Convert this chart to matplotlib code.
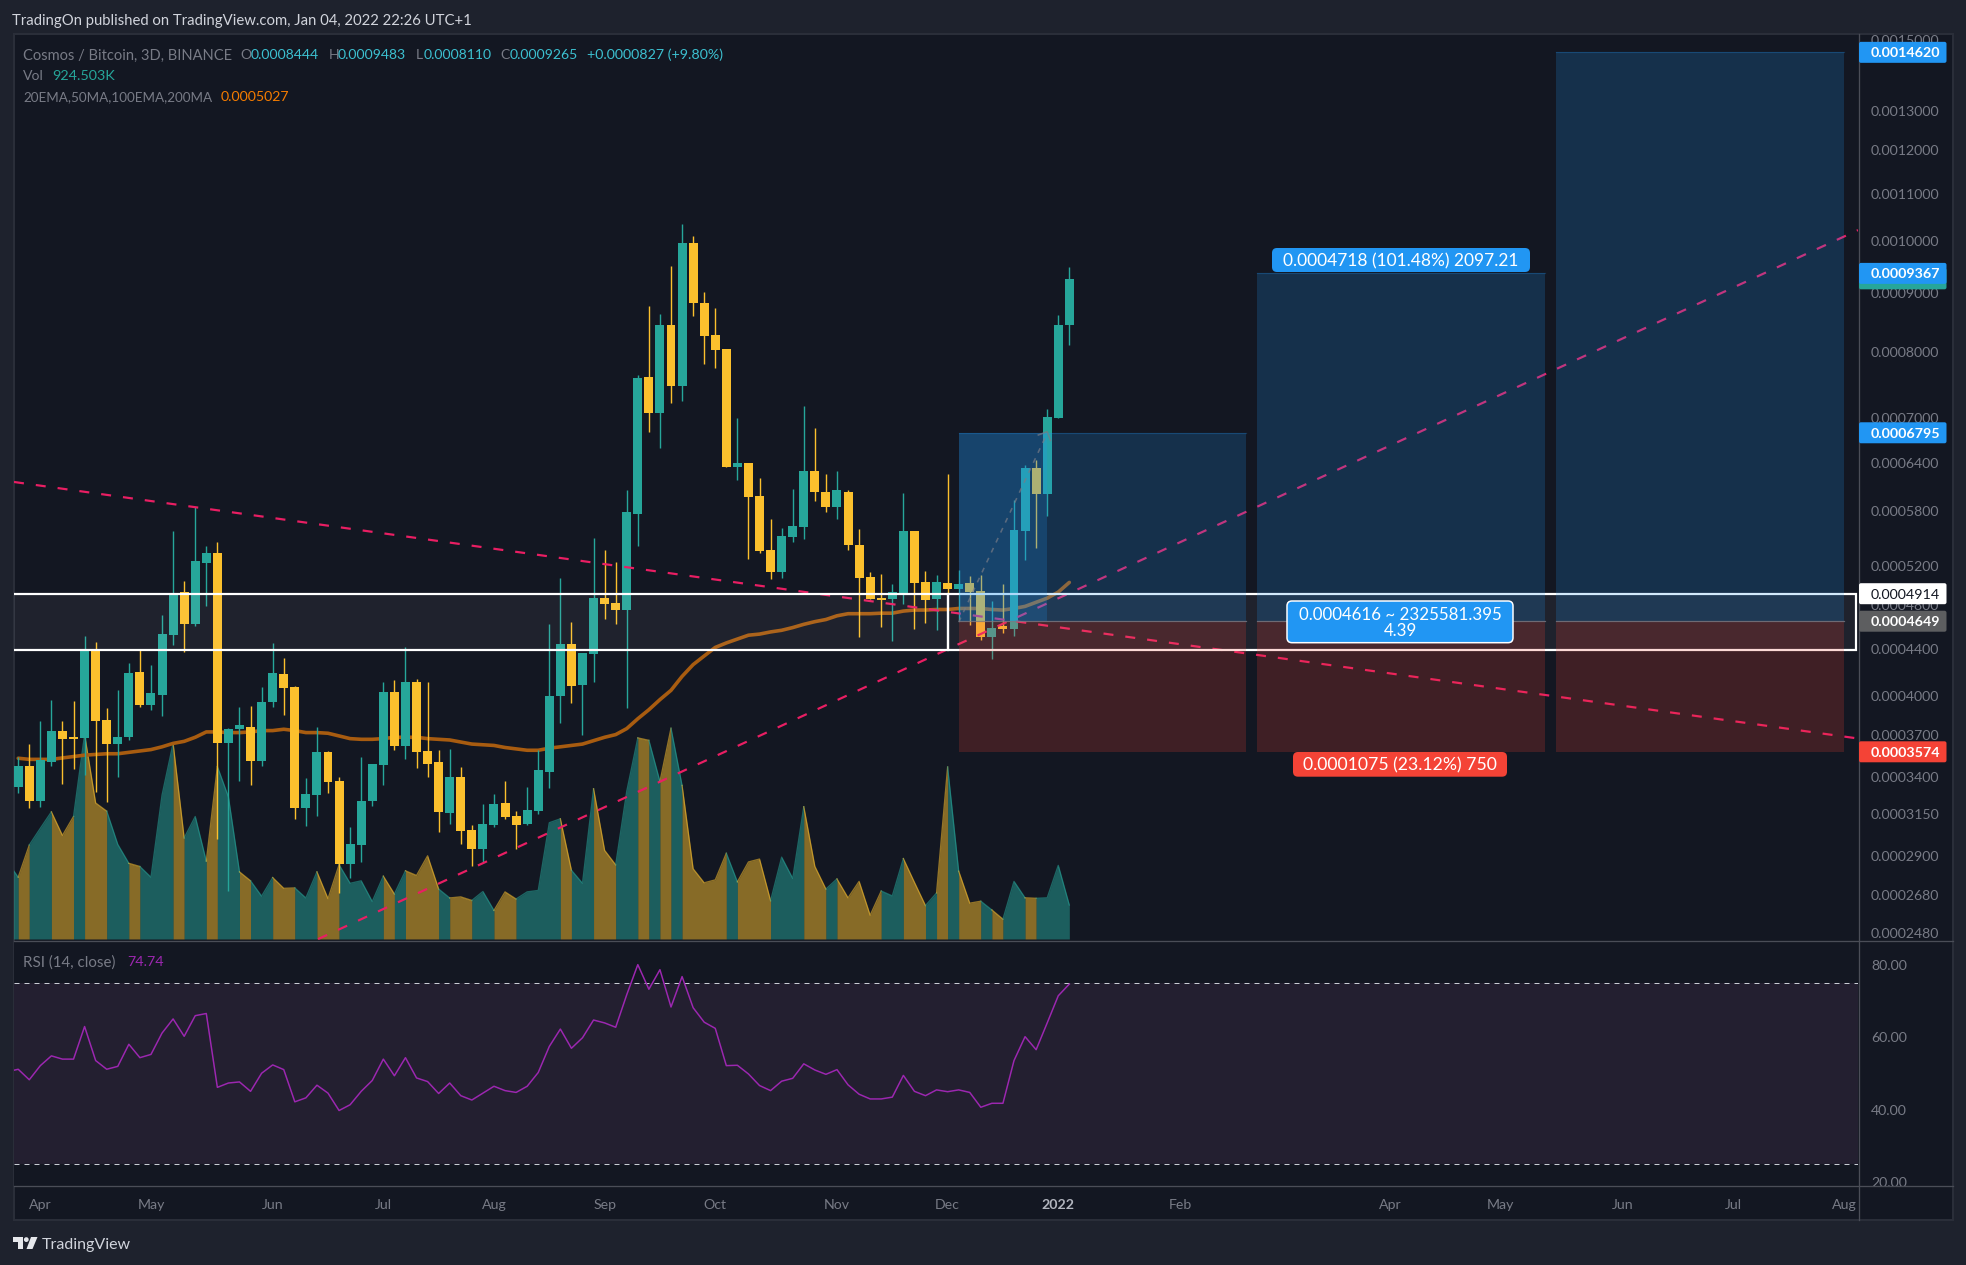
import matplotlib
matplotlib.use("Agg")
import matplotlib.pyplot as plt
from matplotlib.patches import Rectangle, FancyBboxPatch, Circle
from matplotlib.ticker import NullLocator

plt.rcParams['font.family'] = ['Lato', 'DejaVu Sans']
plt.rcParams['lines.scale_dashes'] = False

# ---- data (prices are in units of 1e-4 BTC, volume in thousands) ----
PRICE_UNIT = 1e-4
opens = [3.33,3.47,3.24,3.50,3.73,3.68,3.675,4.39,3.81,3.63,3.68,4.20,3.93,4.01,4.52,4.93,4.62,5.23,5.33,3.64,
         3.74,3.76,3.51,3.95,4.18,4.07,3.19,3.275,3.57,3.37,2.85,2.96,3.235,3.48,4.03,3.615,4.115,3.58,3.50,3.16,
         3.40,3.053,2.94,3.085,3.225,3.14,3.09,3.17,3.43,4.00,4.44,4.09,4.35,4.87,4.82,4.755,5.77,7.60,7.07,8.44,
         7.47,9.96,8.82,8.28,8.05,6.34,6.40,5.98,5.37,5.13,5.51,5.62,6.29,6.03,5.85,6.03,5.42,5.08,4.87,4.86,
         4.92,5.57,5.03,4.86,5.02,4.96,5.02,4.94,4.50,4.60,4.58,5.58,6.33,6.01,7.00,8.444]
highs = [3.54,3.63,3.80,3.97,3.80,3.96,4.51,4.46,3.905,4.05,4.27,4.39,4.26,4.71,5.57,5.04,5.85,5.41,5.45,3.75,
         3.91,3.92,4.07,4.45,4.32,4.08,3.39,3.755,3.58,3.395,3.07,3.54,3.49,4.115,4.13,4.41,4.14,4.11,3.59,3.595,
         3.466,3.085,3.215,3.285,3.37,3.17,3.33,3.59,4.62,5.07,4.64,4.365,5.50,5.37,5.24,6.06,7.64,8.78,8.63,9.50,
         10.34,10.09,9.02,8.73,8.05,7.00,6.40,6.20,5.71,5.61,6.07,7.17,6.86,6.25,6.29,6.05,5.60,5.13,5.11,5.01,
         6.02,5.58,5.14,5.10,6.25,5.15,5.09,5.10,4.84,5.01,5.93,6.37,6.43,7.13,8.61,9.483]
lows = [3.29,3.19,3.20,3.47,3.35,3.45,3.41,3.295,3.23,3.40,3.66,3.91,3.89,3.84,4.43,4.37,4.60,4.79,3.00,2.70,
        3.37,3.34,3.47,3.91,3.85,3.12,3.08,3.14,3.29,2.69,2.77,2.86,3.205,3.34,3.59,3.52,3.46,3.395,3.04,3.09,
        2.97,2.84,2.86,3.07,3.12,2.94,3.085,3.155,3.32,3.79,3.94,3.70,4.115,4.67,4.62,3.905,5.41,6.81,6.59,7.21,
        7.24,8.60,7.81,7.74,6.34,6.18,5.27,5.33,5.06,5.07,5.45,5.49,5.92,5.79,5.71,5.37,4.50,4.86,4.595,4.47,
        4.81,4.58,4.63,4.57,4.92,4.66,4.61,4.48,4.31,4.54,4.51,5.26,5.39,5.75,7.00,8.11]
closes = [3.47,3.24,3.515,3.73,3.67,3.67,4.40,3.80,3.63,3.68,4.19,3.93,4.02,4.53,4.91,4.62,5.25,5.33,3.64,3.74,
          3.77,3.51,3.95,4.19,4.06,3.19,3.28,3.57,3.36,2.85,2.97,3.24,3.49,4.03,3.615,4.11,3.57,3.49,3.165,3.40,
          3.05,2.94,3.09,3.22,3.135,3.085,3.18,3.445,4.00,4.44,4.08,4.36,4.87,4.81,4.755,5.79,7.59,7.07,8.44,7.47,
          9.96,8.82,8.26,8.03,6.34,6.40,5.97,5.36,5.13,5.52,5.63,6.29,6.03,5.85,6.05,5.42,5.07,4.86,4.85,4.93,
          5.57,5.02,4.85,5.03,4.96,5.01,4.93,4.50,4.585,4.58,5.59,6.33,6.01,7.01,8.44,9.265]
volume_before_first = 2108
volumes = [1681,2555,3011,3458,2817,3332,5566,3701,3478,2574,2059,1972,1681,3915,5323,2749,3332,2118,4692,3866,
           1826,1583,1166,1671,1379,1389,1117,1826,1098,2021,1515,1583,1020,1710,1224,1855,1729,2263,1360,1117,
           1146,1049,1292,777,1282,1088,1282,1321,3163,3269,1872,1516,4086,2412,2017,4020,5470,5404,4284,5733,
           4178,1911,1529,1608,2333,1555,2096,2175,1041,2227,1648,3598,1977,1358,1634,1120,1568,646,1305,1173,
           2188,1542,909,1252,4679,1845,975,1028,791,540,1568,1120,1107,1120,2003,924.5]
ma_line = [3.528,3.52,3.52,3.52,3.53,3.54,3.55,3.555,3.56,3.56,3.57,3.58,3.59,3.61,3.635,3.65,3.68,3.72,3.72,3.715,
           3.715,3.72,3.73,3.73,3.74,3.73,3.715,3.715,3.71,3.69,3.67,3.665,3.665,3.67,3.68,3.68,3.68,3.67,3.665,3.66,
           3.645,3.63,3.625,3.62,3.605,3.595,3.585,3.585,3.60,3.61,3.62,3.63,3.655,3.68,3.70,3.745,3.82,3.89,3.97,4.045,
           4.16,4.26,4.335,4.41,4.45,4.485,4.52,4.53,4.55,4.565,4.59,4.62,4.645,4.665,4.70,4.72,4.72,4.72,4.725,4.725,
           4.745,4.755,4.755,4.76,4.76,4.77,4.77,4.77,4.76,4.755,4.77,4.79,4.83,4.87,4.93,5.027]
rsi_before_first = 50.5
rsi_values = [51.2,48.3,52.2,54.9,54.0,54.0,63.0,53.6,51.2,52.0,58.1,54.4,55.3,61.2,65.1,60.3,66.0,66.6,46.2,47.4,
              47.7,45.1,50.1,52.4,51.1,42.2,43.3,46.8,44.6,39.8,41.4,45.1,48.1,54.0,49.4,54.4,48.8,47.8,44.5,47.4,
              43.9,42.7,44.6,46.5,45.3,44.8,46.5,50.3,57.5,62.3,57.0,59.9,64.8,64.0,62.8,71.8,80.1,73.3,78.7,68.4,
              76.8,68.2,64.2,62.5,52.2,52.3,49.9,46.7,45.3,47.9,48.7,52.7,51.0,49.8,51.1,46.9,44.3,43.0,43.0,43.5,
              49.5,45.1,43.9,45.5,45.0,45.5,44.8,40.7,41.8,41.8,53.6,60.2,56.6,64.0,71.5,74.74]

month_ticks = [2,12,23,33,43,53,63,74,84,94,105,124,134,145,155,165]
month_labels = ['Apr','May','Jun','Jul','Aug','Sep','Oct','Nov','Dec','2022','Feb','Apr','May','Jun','Jul','Aug']
price_ticks = [15,13,12,11,10,9,8,7,6.4,5.8,5.2,4.8,4.4,4.0,3.7,3.4,3.15,2.9,2.68,2.48]
rsi_ticks = [80,60,40,20]

falling_x, falling_y = [-0.38,166.28], [6.154,3.671]
rising_x, rising_y = [27.1,166.28], [2.451,10.22]
zone_low, zone_high = 4.39, 4.914
zone_split, zone_end = 84, 166.1
entry, stop = 4.649, 3.574
targets = [6.795, 9.367, 14.62]
position_x = [(85,111),(112,138),(139,165)]
overlap_end = 93
path_x, path_y = [85,93], [4.64,6.79]
head_x, head_y = [92.2,93,93.3], [6.765,6.81,6.69]

# ---- colours ----
BG, PANE, BORDER, SEP = '#1e222d', '#131722', '#2a2e39', '#4a4d57'
TEAL, YELLOW = '#26a69a', '#fbc02d'
BLUE, RED = '#2196f3', '#f44336'
PINK = '#e91e63'
GREY = '#787b86'
CYAN = '#3cc0d0'

W, H = 1966, 1265
fig = plt.figure(figsize=(W/100, H/100), dpi=100, facecolor=BG)
PX = 0.72   # points per pixel

def rect(x0, y0, x1, y1):
    return [x0/W, 1-y1/H, (x1-x0)/W, (y1-y0)/H]

fig.add_artist(Rectangle((14/W, 1-1220/H), (1953-14)/W, (1220-34)/H, transform=fig.transFigure,
                         fc=PANE, ec=BORDER, lw=2*PX, zorder=-5))

# volume pane underneath the price pane
ax_v = fig.add_axes(rect(14,34,1858,940.5), zorder=1, facecolor=PANE)
ax = fig.add_axes(rect(14,34,1858,940.5), zorder=2, facecolor='none')
ax_r = fig.add_axes(rect(14,941,1858,1186), zorder=2, facecolor=PANE)
ov = fig.add_axes([0,0,1,1], zorder=10, facecolor='none')

xlim = (-0.38, 166.28)
n = len(closes)
idx = list(range(n))
colors = [TEAL if c >= o else YELLOW for o, c in zip(opens, closes)]

# volume mountain: runs of candles with one colour form one polygon
all_vol = [volume_before_first] + volumes
all_x = [-1] + idx
start = 0
for k in range(1, len(all_x)+1):
    if k == len(all_x) or (k > 1 and colors[all_x[k]] != colors[all_x[k-1]]):
        c = colors[all_x[k-1]]
        ax_v.fill_between(all_x[start:k], 0, all_vol[start:k], color=c, alpha=0.5, lw=0)
        ax_v.plot(all_x[start:k], all_vol[start:k], color=c, alpha=0.55, lw=1.3*PX)
        start = k-1
ax_v.set_xlim(*xlim); ax_v.set_ylim(-41, 24616); ax_v.axis('off')
ax_v.patch.set_visible(True)

# candles
ax.set_yscale('log')
ax.set_xlim(*xlim); ax.set_ylim(2.444, 15.17)
ax.plot(idx, ma_line, color='#a85c10', lw=3.6*PX, zorder=1.5, solid_capstyle='round')
ax.vlines(idx, lows, highs, colors=colors, lw=1.4*PX, zorder=2)
tops = [max(o, c) for o, c in zip(opens, closes)]
bots = [min(o, c) for o, c in zip(opens, closes)]
ax.bar(idx, [t-b for t, b in zip(tops, bots)], bottom=bots, width=0.81, color=colors, lw=0, zorder=3)

# trend lines
dash = (0, (10*PX, 12*PX))
ax.plot(falling_x, falling_y, color=PINK, lw=2.2*PX, ls=dash, zorder=5)
ax.plot(rising_x, rising_y, color=PINK, lw=2.2*PX, ls=dash, zorder=5)

# support/resistance zone
for x0, x1 in [(-5, zone_split), (zone_split, zone_end)]:
    ax.add_patch(Rectangle((x0, zone_low), x1-x0, zone_high-zone_low, fc=(1,1,1,0.05), ec='white',
                           lw=2.2*PX, zorder=6))

# long-position tools
for (x0, x1), target in zip(position_x, targets):
    ax.add_patch(Rectangle((x0, entry), x1-x0, target-entry, fc=BLUE, alpha=0.2, lw=0, zorder=7))
    ax.add_patch(Rectangle((x0, stop), x1-x0, entry-stop, fc=RED, alpha=0.2, lw=0, zorder=7))
    ax.plot([x0, x1], [entry, entry], color=GREY, lw=1.2*PX, alpha=0.8, zorder=7.5)
    ax.plot([x0, x1], [target, target], color=BLUE, lw=1.2*PX, alpha=0.25, zorder=7.5)
ax.add_patch(Rectangle((position_x[0][0], entry), overlap_end-position_x[0][0], targets[0]-entry,
                       fc=BLUE, alpha=0.2, lw=0, zorder=7))
ax.plot(path_x, path_y, color=GREY, lw=1.6*PX, alpha=0.7, ls=(0,(5*PX,6*PX)), zorder=8)
ax.plot(head_x, head_y, color=GREY, lw=1.6*PX, alpha=0.7, zorder=8)

# axes dressing
ax.yaxis.tick_right()
ax.set_yticks(price_ticks)
ax.set_yticklabels([f'{p*PRICE_UNIT:.7f}' for p in price_ticks])
ax.yaxis.set_minor_locator(NullLocator())
ax.tick_params(axis='y', which='both', length=0, pad=13*PX, labelsize=10.2, labelcolor=GREY)
ax.set_xticks([])
for s in ax.spines.values():
    s.set_visible(False)

# RSI
ax_r.set_xlim(*xlim); ax_r.set_ylim(18.95, 86.63)
ax_r.axhspan(25, 75, color='#b367ae', alpha=0.1, lw=0)
for lvl in (75, 25):
    ax_r.axhline(lvl, color='#c8ccd4', lw=1*PX, ls=(0,(5*PX,5*PX)))
ax_r.plot([-1] + idx, [rsi_before_first] + rsi_values, color='#9c27b0', lw=1.5*PX)
ax_r.yaxis.tick_right()
ax_r.set_yticks(rsi_ticks)
ax_r.set_yticklabels([f'{v:.2f}' for v in rsi_ticks])
ax_r.tick_params(axis='y', length=0, pad=13*PX, labelsize=10.2, labelcolor=GREY)
ax_r.set_xticks(month_ticks)
ax_r.set_xticklabels(month_labels)
ax_r.tick_params(axis='x', length=0, pad=13*PX, labelsize=10.2, labelcolor=GREY)
for t, lab in zip(ax_r.get_xticklabels(), month_labels):
    if lab == '2022':
        t.set_fontweight('bold'); t.set_color('#b2b5be')
for s in ax_r.spines.values():
    s.set_visible(False)

# ---- overlay in pixel coordinates: chrome, tags and texts ----
ov.set_xlim(0, W); ov.set_ylim(H, 0); ov.axis('off')

def price_y(price):
    return H - ax.transData.transform((0, price))[1]

ov.add_patch(Rectangle((0,0), W, 33, fc=BG, lw=0, zorder=1))
ov.add_patch(Rectangle((1859,1187), 93, 32, fc=PANE, lw=0, zorder=1))
ov.plot([14,1953], [33.5,33.5], color=BORDER, lw=2*PX, zorder=2)
ov.plot([14,1953], [940.5,940.5], color=SEP, lw=1.3*PX, zorder=2)
ov.plot([14,1953], [1186,1186], color=SEP, lw=1.3*PX, zorder=2)
ov.plot([1858.5,1858.5], [34,1220], color=SEP, lw=1.3*PX, zorder=2)

def tag(price, label, fc, tc='white', weight='normal'):
    y = price_y(price)
    ov.add_patch(FancyBboxPatch((1859, y-10.5), 87.5, 21, boxstyle='round,pad=0,rounding_size=2',
                                fc=fc, lw=0, zorder=3))
    ov.text(1870.5, y, label, color=tc, fontsize=10.3, va='center_baseline', ha='left', zorder=4, fontweight=weight)

tag(9.265, '', TEAL)
tag(targets[2], f'{targets[2]*PRICE_UNIT:.7f}', BLUE, weight='bold')
tag(targets[1], f'{targets[1]*PRICE_UNIT:.7f}', BLUE, weight='bold')
tag(targets[0], f'{targets[0]*PRICE_UNIT:.7f}', BLUE, weight='bold')
tag(zone_high, f'{zone_high*PRICE_UNIT:.7f}', 'white', '#131722')
tag(entry, f'{entry*PRICE_UNIT:.7f}', '#5d5e60', 'white', 'bold')
tag(stop, f'{stop*PRICE_UNIT:.7f}', RED, weight='bold')

def pill(x0, y0, x1, y1, fc, ec='none', lw=0):
    ov.add_patch(FancyBboxPatch((x0, y0), x1-x0, y1-y0, boxstyle='round,pad=0,rounding_size=5',
                                fc=fc, ec=ec, lw=lw, zorder=3))

pill(1272, 248, 1530, 272, BLUE)
ov.text(1401, 260, '0.0004718 (101.48%) 2097.21', color='white', fontsize=12.5, ha='center', va='center_baseline', zorder=4)
pill(1287, 601, 1513, 642.7, BLUE, 'white', 1.5*PX)
ov.text(1400, 613, '0.0004616 ~ 2325581.395', color='white', fontsize=12.2, ha='center', va='center_baseline', zorder=4)
ov.text(1400, 629, '4.39', color='white', fontsize=12.2, ha='center', va='center_baseline', zorder=4)
pill(1293, 752, 1507, 776.7, RED)
ov.text(1400, 764, '0.0001075 (23.12%) 750', color='white', fontsize=12.7, ha='center', va='center_baseline', zorder=4)

def txt(x, y, s, c=GREY, **kw):
    ov.text(x, y, s, color=c, fontsize=kw.pop('fontsize', 10.1), va='center_baseline', ha='left', zorder=4, **kw)

txt(12.5, 20, 'TradingOn published on TradingView.com, Jan 04, 2022 22:26 UTC+1', '#d1d4dc', fontsize=10.7)
txt(23, 54, 'Cosmos / Bitcoin, 3D, BINANCE', fontsize=10.5)
txt(240, 54, 'O'); txt(250.5, 54, '0.0008444', CYAN)
txt(328.5, 54, 'H'); txt(338, 54, '0.0009483', CYAN)
txt(416, 54, 'L'); txt(424, 54, '0.0008110', CYAN)
txt(500, 54, 'C'); txt(509.5, 54, '0.0009265', CYAN)
txt(587, 54, '+0.0000827 (+9.80%)', CYAN, fontsize=10.3)
txt(23, 75.5, 'Vol'); txt(52.5, 75.5, '924.503K', TEAL, fontsize=10.4)
txt(23, 96, '20EMA,50MA,100EMA,200MA', fontsize=9.75); txt(221, 96, '0.0005027', '#f57c00', fontsize=10.2)
txt(23, 961, 'RSI (14, close)', fontsize=10.9); txt(127, 961, '74.74', '#9c27b0', fontsize=10.3)
txt(41.5, 1244, 'TradingView', '#d1d4dc', fontsize=11.5)

# logo
ov.fill([13,23,23,18,18,13], [1237,1237,1249,1249,1242,1242], color='#e6e8ec', lw=0, zorder=4)
ov.add_patch(Circle((26.3,1239.6), 2.4, fc='#e6e8ec', lw=0, zorder=4))
ov.fill([37.5,32.5,26.5,31], [1237,1249,1249,1237], color='#e6e8ec', lw=0, zorder=4)

fig.savefig('out.png', dpi=100, facecolor=BG)
